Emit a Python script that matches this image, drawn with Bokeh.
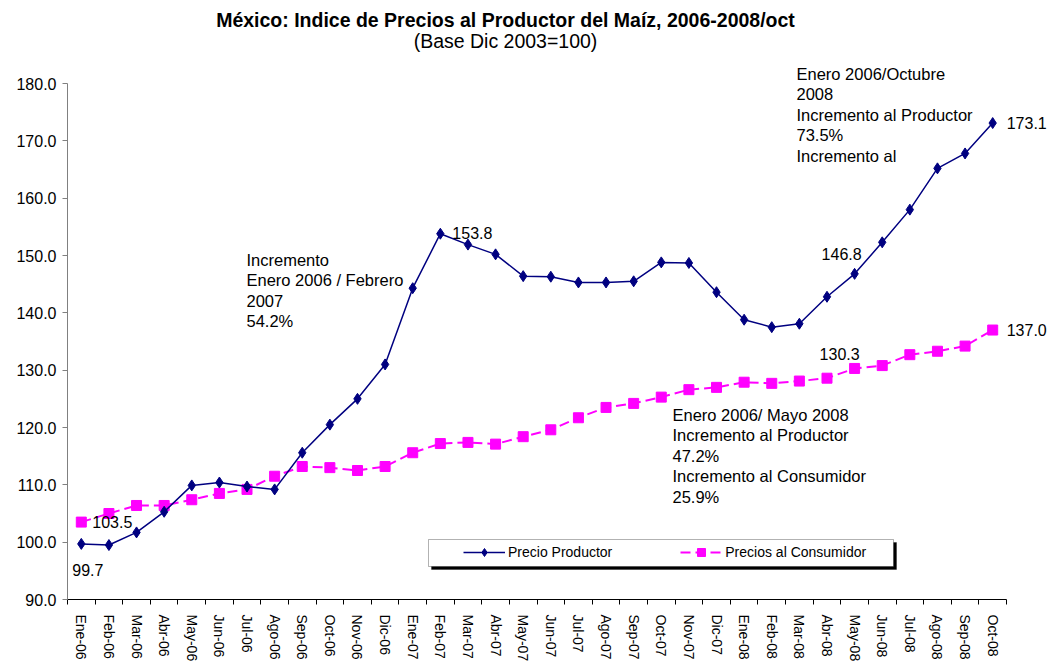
from bokeh.plotting import figure
from bokeh.models import (Range1d, FixedTicker, NumeralTickFormatter, Label, Legend,
                          LegendItem, BoxAnnotation, CustomJSTickFormatter)
from bokeh.embed import file_html
from bokeh.resources import INLINE

# ---------------- data ----------------
months = ["Ene-06", "Feb-06", "Mar-06", "Abr-06", "May-06", "Jun-06", "Jul-06", "Ago-06",
          "Sep-06", "Oct-06", "Nov-06", "Dic-06",
          "Ene-07", "Feb-07", "Mar-07", "Abr-07", "May-07", "Jun-07", "Jul-07", "Ago-07",
          "Sep-07", "Oct-07", "Nov-07", "Dic-07",
          "Ene-08", "Feb-08", "Mar-08", "Abr-08", "May-08", "Jun-08", "Jul-08", "Ago-08",
          "Sep-08", "Oct-08"]
productor = [99.7, 99.5, 101.7, 105.3, 109.9, 110.4, 109.7, 109.2, 115.6, 120.5, 125.0, 131.0,
             144.3, 153.8, 151.9, 150.2, 146.4, 146.3, 145.3, 145.3, 145.5, 148.8, 148.7, 143.6,
             138.8, 137.5, 138.1, 142.8, 146.8, 152.3, 158.0, 165.2, 167.8, 173.1]
consumidor = [103.5, 105.0, 106.4, 106.4, 107.4, 108.5, 109.2, 111.5, 113.2, 113.0, 112.5, 113.2,
              115.6, 117.2, 117.4, 117.1, 118.4, 119.6, 121.7, 123.5, 124.2, 125.3, 126.6, 127.0,
              127.9, 127.7, 128.1, 128.6, 130.3, 130.8, 132.7, 133.3, 134.2, 137.0]
y_ticks = [90, 100, 110, 120, 130, 140, 150, 160, 170, 180]
series_names = ["Precio Productor", "Precios al Consumidor"]
title_text = "México: Indice de Precios al Productor del Maíz, 2006-2008/oct"
subtitle_text = "(Base Dic 2003=100)"
note_left = ["Incremento", "Enero 2006 / Febrero", "2007", "54.2%"]
note_top = ["Enero 2006/Octubre", "2008", "Incremento al Productor", "73.5%", "Incremento al"]
note_mid = ["Enero 2006/ Mayo 2008", "Incremento al Productor", "47.2%",
            "Incremento al Consumidor", "25.9%"]

# ---------------- layout ----------------
FONT = "Liberation Sans"
N = len(months)
YMIN, YMAX = y_ticks[0], y_ticks[-1]
FL, FR, FT, FB = 67, 1006, 83, 599   # plot-area edges (axis extents) in page pixels
PR, PT = 1048, 2                     # drawing frame extends to here so texts are not clipped


def sx(px):
    return (px - FL) / (FR - FL) * N


def sy(py):
    return YMIN + (FB - py) / (FB - FT) * (YMAX - YMIN)


xs = [i + 0.5 for i in range(N)]

p = figure(frame_width=PR - FL, frame_height=FB - PT,
           min_border_left=FL, min_border_right=0,
           min_border_top=PT, min_border_bottom=62,
           x_range=Range1d(0, sx(PR)), y_range=Range1d(YMIN, sy(PT)),
           output_backend="svg", toolbar_location=None)
p.outline_line_color = None
p.xgrid.visible = False
p.ygrid.visible = False
p.background_fill_color = "white"
p.border_fill_color = "white"

# y axis
ya = p.yaxis[0]
ya.bounds = (YMIN, YMAX)
ya.ticker = FixedTicker(ticks=y_ticks)
ya.formatter = NumeralTickFormatter(format="0.0")
ya.axis_line_color = "#808080"
ya.major_tick_line_color = "#808080"
ya.major_tick_out = 5
ya.major_tick_in = 0
ya.minor_tick_line_color = None
ya.major_label_standoff = 6
ya.major_label_text_font = FONT
ya.major_label_text_font_size = "16px"
ya.major_label_text_color = "black"

# x axis
xa = p.xaxis[0]
xa.bounds = (0, N)
xa.ticker = FixedTicker(ticks=xs, minor_ticks=list(range(N + 1)))
xa.formatter = CustomJSTickFormatter(args=dict(labels=months),
                                     code="return labels[Math.floor(tick)];")
xa.axis_line_color = "black"
xa.major_tick_line_color = None
xa.major_tick_out = 0
xa.major_tick_in = 0
xa.minor_tick_line_color = "black"
xa.minor_tick_out = 5
xa.minor_tick_in = 0
xa.major_label_orientation = "vertical"
xa.major_label_standoff = 10
xa.major_label_text_font = FONT
xa.major_label_text_font_size = "14px"
xa.major_label_text_color = "black"

# series
lc = p.line(xs, consumidor, line_color="#FF00FF", line_width=2, line_dash="10 5")
sc = p.scatter(xs, consumidor, marker="square", size=10, fill_color="#FF00FF",
               line_color="#FF00FF")
lp = p.line(xs, productor, line_color="#000080", line_width=1.5)
sp = p.scatter(xs, productor, marker="diamond", size=11, fill_color="#000080",
               line_color="#000080")

# data labels
def data_label(xv, yv, dx, dy, align="left"):
    p.add_layout(Label(x=xv, y=yv, x_offset=dx, y_offset=dy, text=f"{yv:.1f}",
                       text_font=FONT, text_font_size="16px", text_color="black",
                       text_align=align, text_baseline="middle"))

i_feb07 = months.index("Feb-07")
i_may08 = months.index("May-08")
data_label(xs[0], productor[0], -9, -26)
data_label(xs[0], consumidor[0], 11, 0)
data_label(xs[i_feb07], productor[i_feb07], 12, 1)
data_label(xs[i_may08], productor[i_may08], -13, 20, "center")
data_label(xs[i_may08], consumidor[i_may08], -15, 14, "center")
data_label(xs[-1], productor[-1], 14, 0)
data_label(xs[-1], consumidor[-1], 14, 0)

# text notes
def note(lines, px, py0, step=20.5):
    for k, t in enumerate(lines):
        p.add_layout(Label(x=sx(px), y=sy(py0 + k * step), text=t, text_font=FONT,
                           text_font_size="16.5px", text_color="black",
                           text_align="left", text_baseline="middle"))

note(note_left, 246, 259)
note(note_top, 796, 73)
note(note_mid, 672, 414)

# titles
p.add_layout(Label(x=sx(505), y=sy(19.5), text=title_text, text_font=FONT,
                   text_font_size="19.5px", text_font_style="bold", text_color="black",
                   text_align="center", text_baseline="middle"))
p.add_layout(Label(x=sx(505), y=sy(40.5), text=subtitle_text, text_font=FONT,
                   text_font_size="19.5px", text_color="black",
                   text_align="center", text_baseline="middle"))

# legend box with shadow
p.add_layout(BoxAnnotation(left=sx(431), right=sx(896), top=sy(542), bottom=sy(569),
                           fill_color="black", fill_alpha=1, line_color="black"))
p.add_layout(BoxAnnotation(left=sx(428), right=sx(893), top=sy(539), bottom=sy(566),
                           fill_color="white", fill_alpha=1, line_color="black",
                           line_width=1))
legend = Legend(items=[LegendItem(label=series_names[0], renderers=[lp, sp]),
                       LegendItem(label=series_names[1], renderers=[lc, sc])],
                orientation="horizontal", location=(463 - FL, FB - 562),
                padding=0, margin=0, spacing=68, glyph_width=42, glyph_height=20,
                label_height=20, label_standoff=3, label_text_font=FONT,
                label_text_font_size="14px", label_text_color="black",
                border_line_color=None, background_fill_alpha=0)
p.add_layout(legend, "center")

open("out.html", "w").write(file_html(p, INLINE))
